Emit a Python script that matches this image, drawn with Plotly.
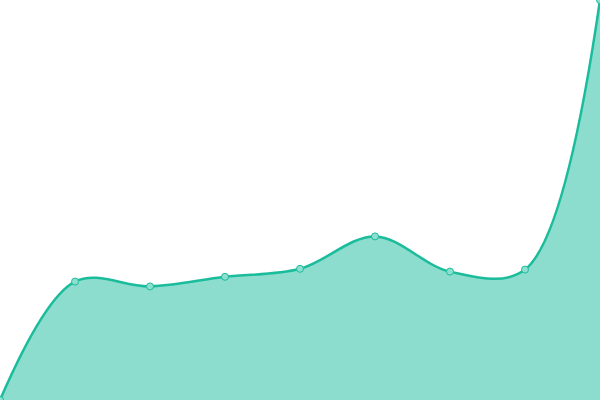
import plotly.graph_objects as go

x_vals = [0, 1, 2, 3, 4, 5, 6, 7, 8]
y_vals = [0, 29.6, 28.4, 30.8, 32.8, 40.9, 32.1, 32.6, 100]

line_color = "#1abc9c"
fill_color = "rgba(26,188,156,0.5)"

fig = go.Figure()

fig.add_trace(go.Scatter(
    x=x_vals,
    y=y_vals,
    mode="lines+markers",
    line=dict(color=line_color, width=2.5, shape="spline", smoothing=1),
    fill="tozeroy",
    fillcolor=fill_color,
    marker=dict(size=7, color="#8de0d0", line=dict(color=line_color, width=1)),
    showlegend=False,
))

fig.update_layout(
    width=600,
    height=400,
    margin=dict(l=0, r=0, t=0, b=0),
    paper_bgcolor="white",
    plot_bgcolor="white",
    xaxis=dict(visible=False, range=[0, 8]),
    yaxis=dict(visible=False, range=[0, 100]),
)

# page body has a default margin, drop it so the chart sits at 0,0
fig.write_html("out.html",
               config={"displayModeBar": False},
               post_script="document.body.style.margin='0';")
